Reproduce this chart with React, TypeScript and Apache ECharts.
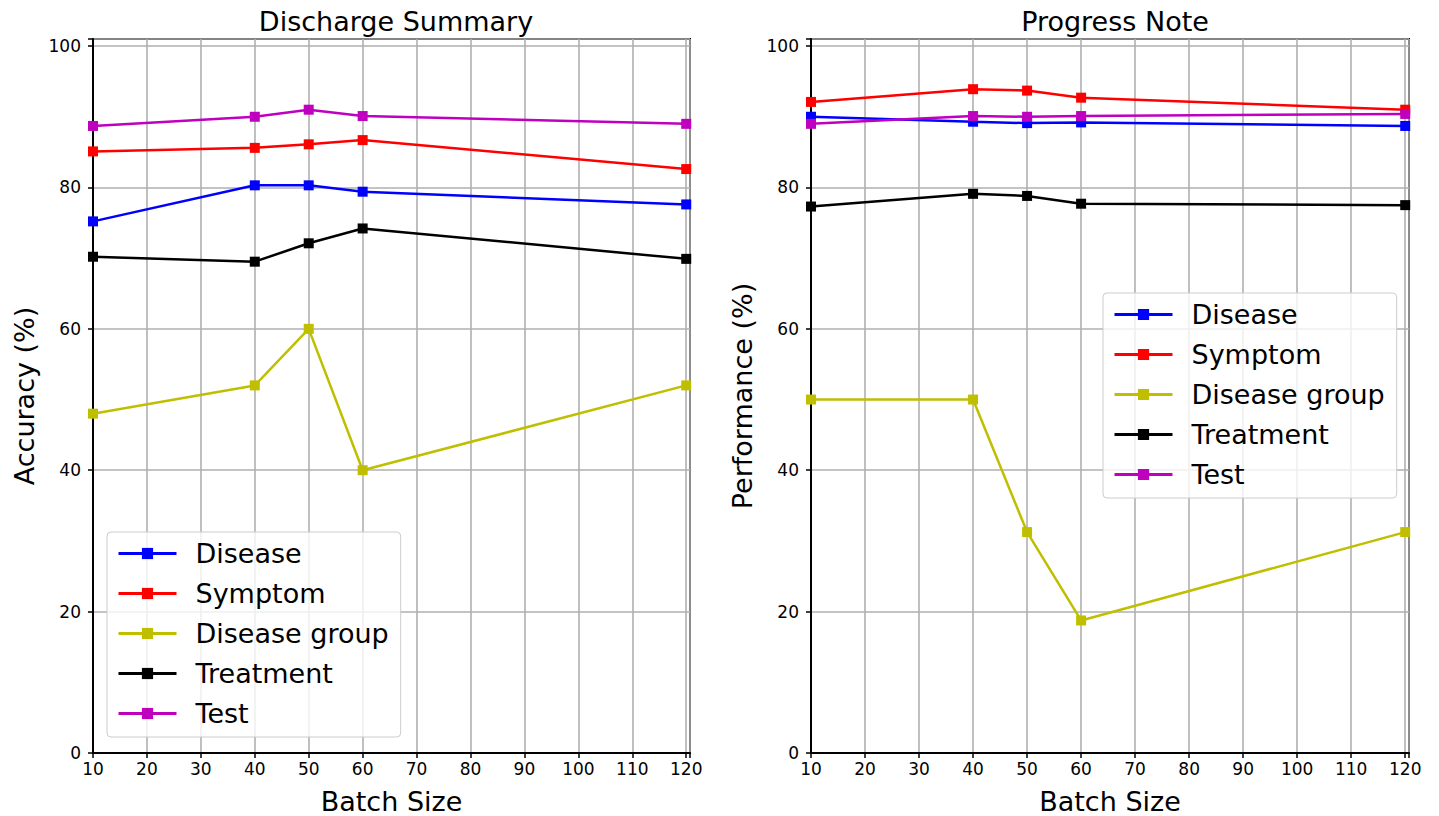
import React, { useEffect, useRef } from "react";
import * as echarts from "echarts";

const batchSizes = [10, 40, 50, 60, 120];
const seriesNames = ["Disease", "Symptom", "Disease group", "Treatment", "Test"];
const seriesColors = ["#0000ff", "#ff0000", "#bfbf00", "#000000", "#bf00bf"];

// Discharge Summary (Accuracy %)
const dsDisease = [75.2, 80.3, 80.3, 79.4, 77.6];
const dsSymptom = [85.1, 85.6, 86.1, 86.7, 82.6];
const dsDiseaseGroup = [48, 52, 60, 40, 52];
const dsTreatment = [70.2, 69.5, 72.1, 74.2, 69.9];
const dsTest = [88.7, 90.0, 91.0, 90.1, 89.0];

// Progress Note (Performance %)
const pnDisease = [90.0, 89.3, 89.1, 89.2, 88.7];
const pnSymptom = [92.1, 93.9, 93.7, 92.7, 91.0];
const pnDiseaseGroup = [50, 50, 31.25, 18.75, 31.25];
const pnTreatment = [77.3, 79.1, 78.8, 77.7, 77.5];
const pnTest = [89.0, 90.1, 90.0, 90.1, 90.4];

const xTickLabels = [10, 20, 30, 40, 50, 60, 70, 80, 90, 100, 110, 120];
const yTickLabels = [0, 20, 40, 60, 80, 100];

const FONT = "DejaVu Sans";

export default function App() {
  const ref = useRef<HTMLDivElement>(null);
  useEffect(() => {
    if (!ref.current) return;
    const chart = echarts.init(ref.current, null, { renderer: "svg" });
    const dsData = [dsDisease, dsSymptom, dsDiseaseGroup, dsTreatment, dsTest];
    const pnData = [pnDisease, pnSymptom, pnDiseaseGroup, pnTreatment, pnTest];

    const grids = [
      { left: 93, top: 39, width: 597, height: 714 },
      { left: 811, top: 39, width: 598, height: 714 },
    ];

    const xAxisBase = (gi: number) => ({
      type: "value",
      gridIndex: gi,
      min: 10,
      max: 120.7,
      interval: 10,
      name: "Batch Size",
      nameLocation: "middle",
      nameGap: 35,
      nameTextStyle: { fontFamily: FONT, fontSize: 27, lineHeight: 26, color: "#000" },
      axisLine: { show: true, onZero: false, lineStyle: { color: "#000", width: 2 } },
      axisTick: { show: true, length: 5, lineStyle: { color: "#000", width: 1.5 } },
      axisLabel: {
        fontFamily: FONT,
        fontSize: 17,
        color: "#000",
        margin: 7,
        formatter: (v: number) => (xTickLabels.includes(v) ? String(v) : ""),
      },
      splitLine: { show: true, lineStyle: { color: "#b0b0b0", width: 1.6 } },
    });

    const yAxisBase = (gi: number, name: string) => ({
      type: "value",
      gridIndex: gi,
      min: 0,
      max: 101,
      interval: 20,
      name,
      nameLocation: "middle",
      nameGap: 55,
      nameTextStyle: { fontFamily: FONT, fontSize: 27, color: "#000" },
      axisLine: { show: true, lineStyle: { color: "#000", width: 2 } },
      axisTick: { show: true, length: 5, lineStyle: { color: "#000", width: 1.5 } },
      axisLabel: {
        fontFamily: FONT,
        fontSize: 17,
        color: "#000",
        margin: 12,
        formatter: (v: number) => (yTickLabels.includes(v) ? String(v) : ""),
      },
      splitLine: { show: true, lineStyle: { color: "#b0b0b0", width: 1.6 } },
    });

    const mkSeries = (data: number[][], gi: number) =>
      data.map((vals, i) => ({
        type: "line",
        name: seriesNames[i],
        xAxisIndex: gi,
        yAxisIndex: gi,
        data: batchSizes.map((x, j) => [x, vals[j]]),
        symbol: "rect",
        symbolSize: 10,
        showSymbol: true,
        color: seriesColors[i],
        lineStyle: { color: seriesColors[i], width: 2.5 },
        itemStyle: { color: seriesColors[i] },
        z: 3,
      }));

    const legendBase = (left: number, top: number) => ({
      show: true,
      orient: "vertical",
      left,
      top,
      data: seriesNames,
      itemWidth: 58,
      itemHeight: 14,
      itemGap: 13,
      padding: [8, 12, 10, 10],
      borderColor: "#cccccc",
      borderWidth: 1,
      borderRadius: 4,
      backgroundColor: "rgba(255,255,255,0.8)",
      lineStyle: { width: 3 },
      textStyle: {
        fontFamily: FONT,
        fontSize: 27,
        lineHeight: 27,
        color: "#000",
        padding: [0, 0, 0, 14],
      },
    });

    chart.setOption({
      animation: false,
      backgroundColor: "#ffffff",
      title: [
        {
          text: "Discharge Summary",
          left: 391,
          top: 3,
          textAlign: "center",
          textStyle: { fontFamily: FONT, fontSize: 27, fontWeight: "normal", color: "#000" },
        },
        {
          text: "Progress Note",
          left: 1110,
          top: 3,
          textAlign: "center",
          textStyle: { fontFamily: FONT, fontSize: 27, fontWeight: "normal", color: "#000" },
        },
      ],
      grid: grids.map((g) => ({
        ...g,
        show: true,
        containLabel: false,
        outerBoundsMode: "none",
        borderColor: "#000",
        borderWidth: 2,
        backgroundColor: "transparent",
      })),
      xAxis: [xAxisBase(0), xAxisBase(1)],
      yAxis: [yAxisBase(0, "Accuracy (%)"), yAxisBase(1, "Performance (%)")],
      legend: [legendBase(107, 532), legendBase(1103, 293)],
      series: [...mkSeries(dsData, 0), ...mkSeries(pnData, 1)],
    });
    return () => chart.dispose();
  }, []);
  return (
    <div
      ref={ref}
      style={{ position: "fixed", left: 0, top: 0, width: 1439, height: 816, background: "#fff" }}
    />
  );
}
